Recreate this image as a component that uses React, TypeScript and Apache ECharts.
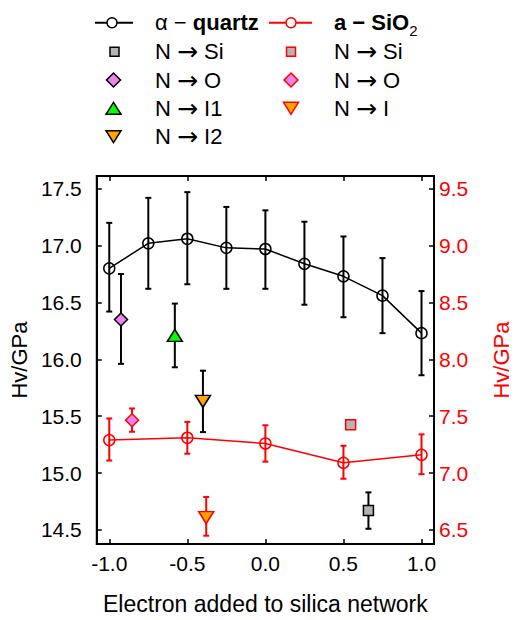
import React, { useEffect, useRef } from "react";
import * as echarts from "echarts";

// ---- data ----
const xTicks = [-1.0, -0.5, 0.0, 0.5, 1.0];
const leftTicks = [14.5, 15.0, 15.5, 16.0, 16.5, 17.0, 17.5];
const rightTicks = [6.5, 7.0, 7.5, 8.0, 8.5, 9.0, 9.5];

const quartzX = [-1.0, -0.75, -0.5, -0.25, 0.0, 0.25, 0.5, 0.75, 1.0];
const quartzHv = [16.8, 17.02, 17.06, 16.98, 16.97, 16.84, 16.73, 16.56, 16.23];
const quartzLow = [16.42, 16.62, 16.66, 16.62, 16.62, 16.48, 16.37, 16.23, 15.86];
const quartzHigh = [17.2, 17.42, 17.47, 17.34, 17.31, 17.21, 17.08, 16.89, 16.6];

const sio2X = [-1.0, -0.5, 0.0, 0.5, 1.0];
const sio2Hv = [7.29, 7.31, 7.26, 7.09, 7.16];
const sio2Low = [7.11, 7.17, 7.1, 6.95, 6.99];
const sio2High = [7.48, 7.45, 7.42, 7.24, 7.34];

// quartz defects: [x, Hv, low, high]
const qNSi = [0.66, 14.67, 14.51, 14.83];
const qNO = [-0.925, 16.35, 15.96, 16.75];
const qNI1 = [-0.58, 16.21, 15.93, 16.49];
const qNI2 = [-0.4, 15.63, 15.36, 15.9];

// amorphous SiO2 defects: [x, Hv, low, high]
const aNSi = [0.546, 7.424];
const aNO = [-0.854, 7.464, 7.363, 7.568];
const aNI = [-0.379, 6.608, 6.449, 6.79];

const legendDefects1 = ["Si", "O", "I1", "I2"];
const legendDefects2 = ["Si", "O", "I"];

const FONT = "'Liberation Sans', Arial, Helvetica, sans-serif";
const RED = "#ff0000";

function errorBars(name: string, data: number[][], yAxisIndex: number, color: string, width: number) {
  return {
    name,
    type: "custom",
    xAxisIndex: 0,
    yAxisIndex,
    z: 1,
    silent: true,
    data,
    encode: { x: 0, y: [1, 2] },
    renderItem: (params: any, api: any) => {
      const x = api.value(0);
      const lo = api.coord([x, api.value(1)]);
      const hi = api.coord([x, api.value(2)]);
      const cap = 3;
      const style = { stroke: color, lineWidth: width };
      return {
        type: "group",
        children: [
          { type: "line", shape: { x1: lo[0], y1: lo[1], x2: hi[0], y2: hi[1] }, style },
          { type: "line", shape: { x1: lo[0] - cap, y1: lo[1], x2: lo[0] + cap, y2: lo[1] }, style },
          { type: "line", shape: { x1: hi[0] - cap, y1: hi[1], x2: hi[0] + cap, y2: hi[1] }, style },
        ],
      };
    },
  };
}

function marker(name: string, p: number[], yAxisIndex: number, symbol: string, size: any, fill: string, border: string, rotate = 0) {
  return {
    name,
    type: "scatter",
    xAxisIndex: 0,
    yAxisIndex,
    z: 5,
    symbol,
    symbolSize: size,
    symbolRotate: rotate,
    itemStyle: { color: fill, borderColor: border, borderWidth: 1.5, opacity: 1 },
    data: [[p[0], p[1]]],
  };
}

function legendGraphics() {
  const t = (x: number, y: number, text: string, rich?: any) => ({
    type: "text",
    x,
    y,
    style: {
      text,
      fontFamily: FONT,
      fontSize: 22,
      fill: "#000",
      verticalAlign: "middle",
      align: "left",
      rich,
    },
  });
  const arrowRich = {
    t: { fontFamily: FONT, fontSize: 22, fill: "#000" },
    a: { fontFamily: "'DejaVu Sans', sans-serif", fontSize: 25, fill: "#000" },
  };
  const defectText = (x: number, y: number, target: string) =>
    t(x, y, `{t|N }{a|→}{t| ${target}}`, arrowRich);
  const rows = [22.7, 51.7, 80, 108.3, 136.7];
  const c1 = 113.5;
  const c2 = 291;
  const tx1 = 155;
  const tx2 = 334;
  const diamond = (cx: number, cy: number, fill: string, stroke: string) => ({
    type: "polygon",
    shape: { points: [[cx, cy - 7], [cx + 7, cy], [cx, cy + 7], [cx - 7, cy]] },
    style: { fill, stroke, lineWidth: 1.5 },
  });
  const triUp = (cx: number, cy: number, fill: string, stroke: string) => ({
    type: "polygon",
    shape: { points: [[cx, cy - 6], [cx + 7.5, cy + 6], [cx - 7.5, cy + 6]] },
    style: { fill, stroke, lineWidth: 1.5 },
  });
  const triDown = (cx: number, cy: number, fill: string, stroke: string) => ({
    type: "polygon",
    shape: { points: [[cx - 7.5, cy - 6], [cx + 7.5, cy - 6], [cx, cy + 6]] },
    style: { fill, stroke, lineWidth: 1.5 },
  });
  const square = (cx: number, cy: number, fill: string, stroke: string) => ({
    type: "rect",
    shape: { x: cx - 4.5, y: cy - 4.5, width: 9, height: 9 },
    style: { fill, stroke, lineWidth: 1.5 },
  });
  return [
    { type: "line", shape: { x1: 95, y1: rows[0], x2: 133, y2: rows[0] }, style: { stroke: "#000", lineWidth: 2 } },
    { type: "circle", shape: { cx: 112, cy: rows[0], r: 5 }, style: { fill: "#fff", stroke: "#000", lineWidth: 1.5 } },
    t(tx1, rows[0], "{r|α − }{b|quartz}", {
      r: { fontFamily: FONT, fontSize: 22, fill: "#000" },
      b: { fontFamily: FONT, fontSize: 22, fontWeight: "bold", fill: "#000" },
    }),
    { type: "line", shape: { x1: 269, y1: rows[0], x2: 312, y2: rows[0] }, style: { stroke: RED, lineWidth: 2 } },
    { type: "circle", shape: { cx: 291, cy: rows[0], r: 5 }, style: { fill: "#fff", stroke: RED, lineWidth: 1.5 } },
    t(tx2, rows[0], "{b|a − SiO}{s|2}", {
      b: { fontFamily: FONT, fontSize: 22, fontWeight: "bold", fill: "#000", lineHeight: 30 },
      s: { fontFamily: FONT, fontSize: 15, fill: "#000", lineHeight: 30, verticalAlign: "bottom" },
    }),
    square(c1 + 1, rows[1], "#b4b4b4", "#000"),
    diamond(c1, rows[2], "#ee82ee", "#000"),
    triUp(c1, rows[3], "#00ff00", "#000"),
    triDown(c1, rows[4], "#ffa500", "#000"),
    ...legendDefects1.map((d, i) => defectText(tx1, rows[i + 1], d)),
    square(c2, rows[1], "#b4b4b4", RED),
    diamond(c2, rows[2], "#ee82ee", RED),
    triDown(c2, rows[3], "#ffa500", RED),
    ...legendDefects2.map((d, i) => defectText(tx2, rows[i + 1], d)),
  ];
}

export default function App() {
  const ref = useRef<HTMLDivElement>(null);
  useEffect(() => {
    if (!ref.current) return;
    const chart = echarts.init(ref.current, null, { renderer: "svg" });
    const axisLine = { show: true, onZero: false, lineStyle: { color: "#000", width: 2 } };
    const fmt = (v: number) => v.toFixed(1);
    const option: any = {
      animation: false,
      backgroundColor: "#fff",
      textStyle: { fontFamily: FONT },
      grid: {
        left: 96,
        right: 78,
        top: 176,
        bottom: 70,
        containLabel: false,
        show: true,
        borderColor: "#000",
        borderWidth: 2,
        backgroundColor: "transparent",
      },
      graphic: legendGraphics(),
      xAxis: [
        {
          type: "value",
          position: "bottom",
          min: -1.08,
          max: 1.08,
          axisLine,
          axisTick: { show: true, inside: true, length: 5, customValues: xTicks, lineStyle: { color: "#000", width: 1.5 } },
          axisLabel: { customValues: xTicks, formatter: fmt, fontSize: 21, color: "#000", margin: 9, fontFamily: FONT },
          splitLine: { show: false },
          name: "Electron added to silica network",
          nameLocation: "middle",
          nameGap: 48,
          nameTextStyle: { fontSize: 23, color: "#000", fontFamily: FONT },
        },
        {
          type: "value",
          position: "top",
          min: -1.08,
          max: 1.08,
          axisLine,
          axisTick: { show: true, inside: true, length: 5, customValues: xTicks, lineStyle: { color: "#000", width: 1.5 } },
          axisLabel: { show: false },
          splitLine: { show: false },
        },
      ],
      yAxis: [
        {
          type: "value",
          position: "left",
          min: 14.376,
          max: 17.612,
          axisLine,
          axisTick: { show: true, inside: true, length: 5, customValues: leftTicks, lineStyle: { color: "#000", width: 1.5 } },
          axisLabel: { customValues: leftTicks, formatter: fmt, fontSize: 21, color: "#000", margin: 15, fontFamily: FONT },
          splitLine: { show: false },
          name: "Hv/GPa",
          nameLocation: "middle",
          nameRotate: 90,
          nameGap: 62,
          nameTextStyle: { fontSize: 22, color: "#000", fontFamily: FONT },
        },
        {
          type: "value",
          position: "right",
          min: 6.376,
          max: 9.612,
          axisLine,
          axisTick: { show: true, inside: true, length: 5, customValues: rightTicks, lineStyle: { color: "#000", width: 1.5 } },
          axisLabel: { customValues: rightTicks, formatter: fmt, fontSize: 21, color: RED, margin: 5, fontFamily: FONT },
          splitLine: { show: false },
          name: "Hv/GPa",
          nameLocation: "middle",
          nameRotate: 90,
          nameGap: 56,
          nameTextStyle: { fontSize: 22, color: RED, fontFamily: FONT },
        },
      ],
      series: [
        errorBars("α-quartz error", quartzX.map((x, i) => [x, quartzLow[i], quartzHigh[i]]), 0, "#000", 2),
        errorBars(
          "α-quartz defect error",
          [qNSi, qNO, qNI1, qNI2].map((p) => [p[0], p[2], p[3]]),
          0,
          "#000",
          2
        ),
        errorBars("a-SiO2 error", sio2X.map((x, i) => [x, sio2Low[i], sio2High[i]]), 1, RED, 2),
        errorBars("a-SiO2 defect error", [aNO, aNI].map((p) => [p[0], p[2], p[3]]), 1, RED, 2),
        {
          name: "α − quartz",
          type: "line",
          xAxisIndex: 0,
          yAxisIndex: 0,
          z: 3,
          data: quartzX.map((x, i) => [x, quartzHv[i]]),
          symbol: "circle",
          symbolSize: 11,
          showAllSymbol: true,
          lineStyle: { color: "#000", width: 1.5 },
          itemStyle: { color: "rgba(255,255,255,0)", borderColor: "#000", borderWidth: 1.5 },
        },
        {
          name: "a − SiO2",
          type: "line",
          xAxisIndex: 0,
          yAxisIndex: 1,
          z: 3,
          data: sio2X.map((x, i) => [x, sio2Hv[i]]),
          symbol: "circle",
          symbolSize: 11,
          showAllSymbol: true,
          lineStyle: { color: RED, width: 1.5 },
          itemStyle: { color: "rgba(255,255,255,0)", borderColor: RED, borderWidth: 1.5 },
        },
        marker("α-quartz N → Si", qNSi, 0, "rect", 10, "#b4b4b4", "#000"),
        marker("α-quartz N → O", qNO, 0, "diamond", 13, "#ee82ee", "#000"),
        marker("α-quartz N → I1", qNI1, 0, "triangle", [15, 12], "#00ff00", "#000"),
        marker("α-quartz N → I2", qNI2, 0, "triangle", [15, 12], "#ffa500", "#000", 180),
        marker("a-SiO2 N → Si", aNSi, 1, "rect", 10, "#b4b4b4", RED),
        marker("a-SiO2 N → O", aNO, 1, "diamond", 13, "#ee82ee", RED),
        marker("a-SiO2 N → I", aNI, 1, "triangle", [15, 12], "#ffa500", RED, 180),
      ],
    };
    chart.setOption(option);
    return () => chart.dispose();
  }, []);
  return (
    <div
      ref={ref}
      style={{ position: "absolute", left: 0, top: 0, width: 520, height: 620, background: "#fff" }}
    />
  );
}
